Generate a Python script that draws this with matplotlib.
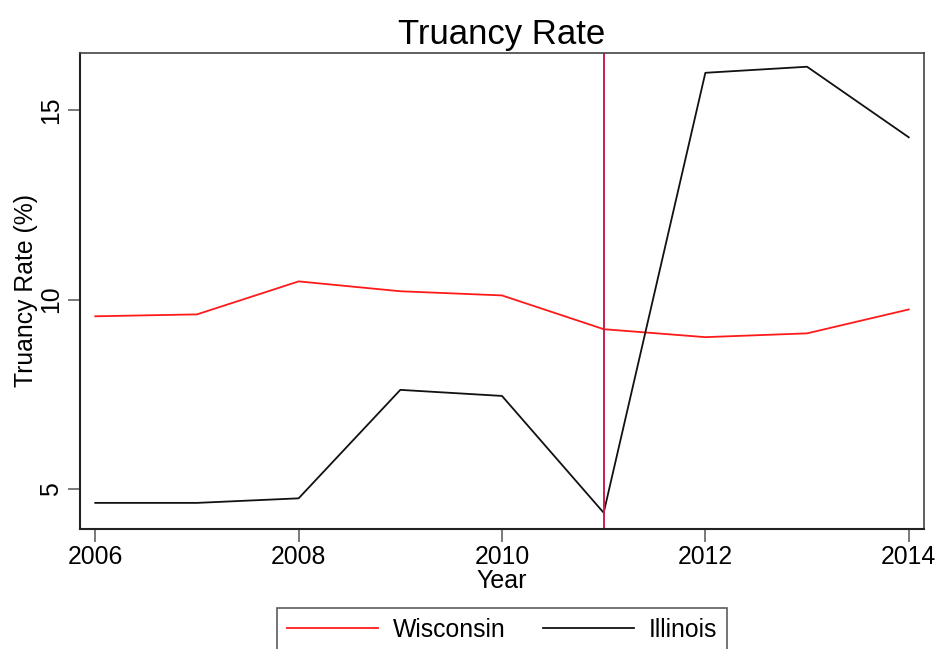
import matplotlib.pyplot as plt

plt.rcParams['font.family'] = ['Liberation Sans', 'DejaVu Sans']

years = [2006, 2007, 2008, 2009, 2010, 2011, 2012, 2013, 2014]
wisconsin = [9.56, 9.61, 10.48, 10.22, 10.11, 9.22, 9.01, 9.11, 9.74]
illinois = [4.64, 4.64, 4.76, 7.62, 7.46, 4.38, 15.98, 16.14, 14.28]
policy_year = 2011

fig = plt.figure(figsize=(9.37, 6.49), dpi=100)
ax = fig.add_axes([0.0854, 0.1854, 0.9007, 0.7334])

ax.plot(years, wisconsin, color='#ff1a1a', lw=1.3, label='Wisconsin')
ax.plot(years, illinois, color='#111111', lw=1.3, label='Illinois')
ax.axvline(policy_year, color='#c81e50', lw=1.4)

ax.set_xlim(2005.85, 2014.15)
ax.set_ylim(3.96, 16.51)
ax.set_xticks([2006, 2008, 2010, 2012, 2014])
ax.set_yticks([5, 10, 15])

for side in ['left', 'bottom']:
    ax.spines[side].set_linewidth(1.5)
    ax.spines[side].set_color('#222222')
for side in ['top', 'right']:
    ax.spines[side].set_linewidth(1.2)
    ax.spines[side].set_color('#444444')

ax.tick_params(axis='both', direction='out', length=9, width=1.1,
               color='#555555', labelsize=17.8, pad=3)
plt.setp(ax.get_yticklabels(), rotation=90, va='center')

ax.set_xlabel('Year', fontsize=18, labelpad=0)
ax.set_ylabel('Truancy Rate (%)', fontsize=17.8, labelpad=1)
ax.set_title('Truancy Rate', fontsize=25, pad=6)

leg = fig.legend(loc='upper center', bbox_to_anchor=(0.5358, 0.0632), ncol=2,
                 fontsize=17.8, frameon=True, fancybox=False,
                 handlelength=3.68, handletextpad=0.6, columnspacing=1.54,
                 borderpad=0.4, borderaxespad=0)
leg.get_frame().set_edgecolor('#333333')
leg.get_frame().set_linewidth(1.2)

fig.savefig('out.png', dpi=100)
